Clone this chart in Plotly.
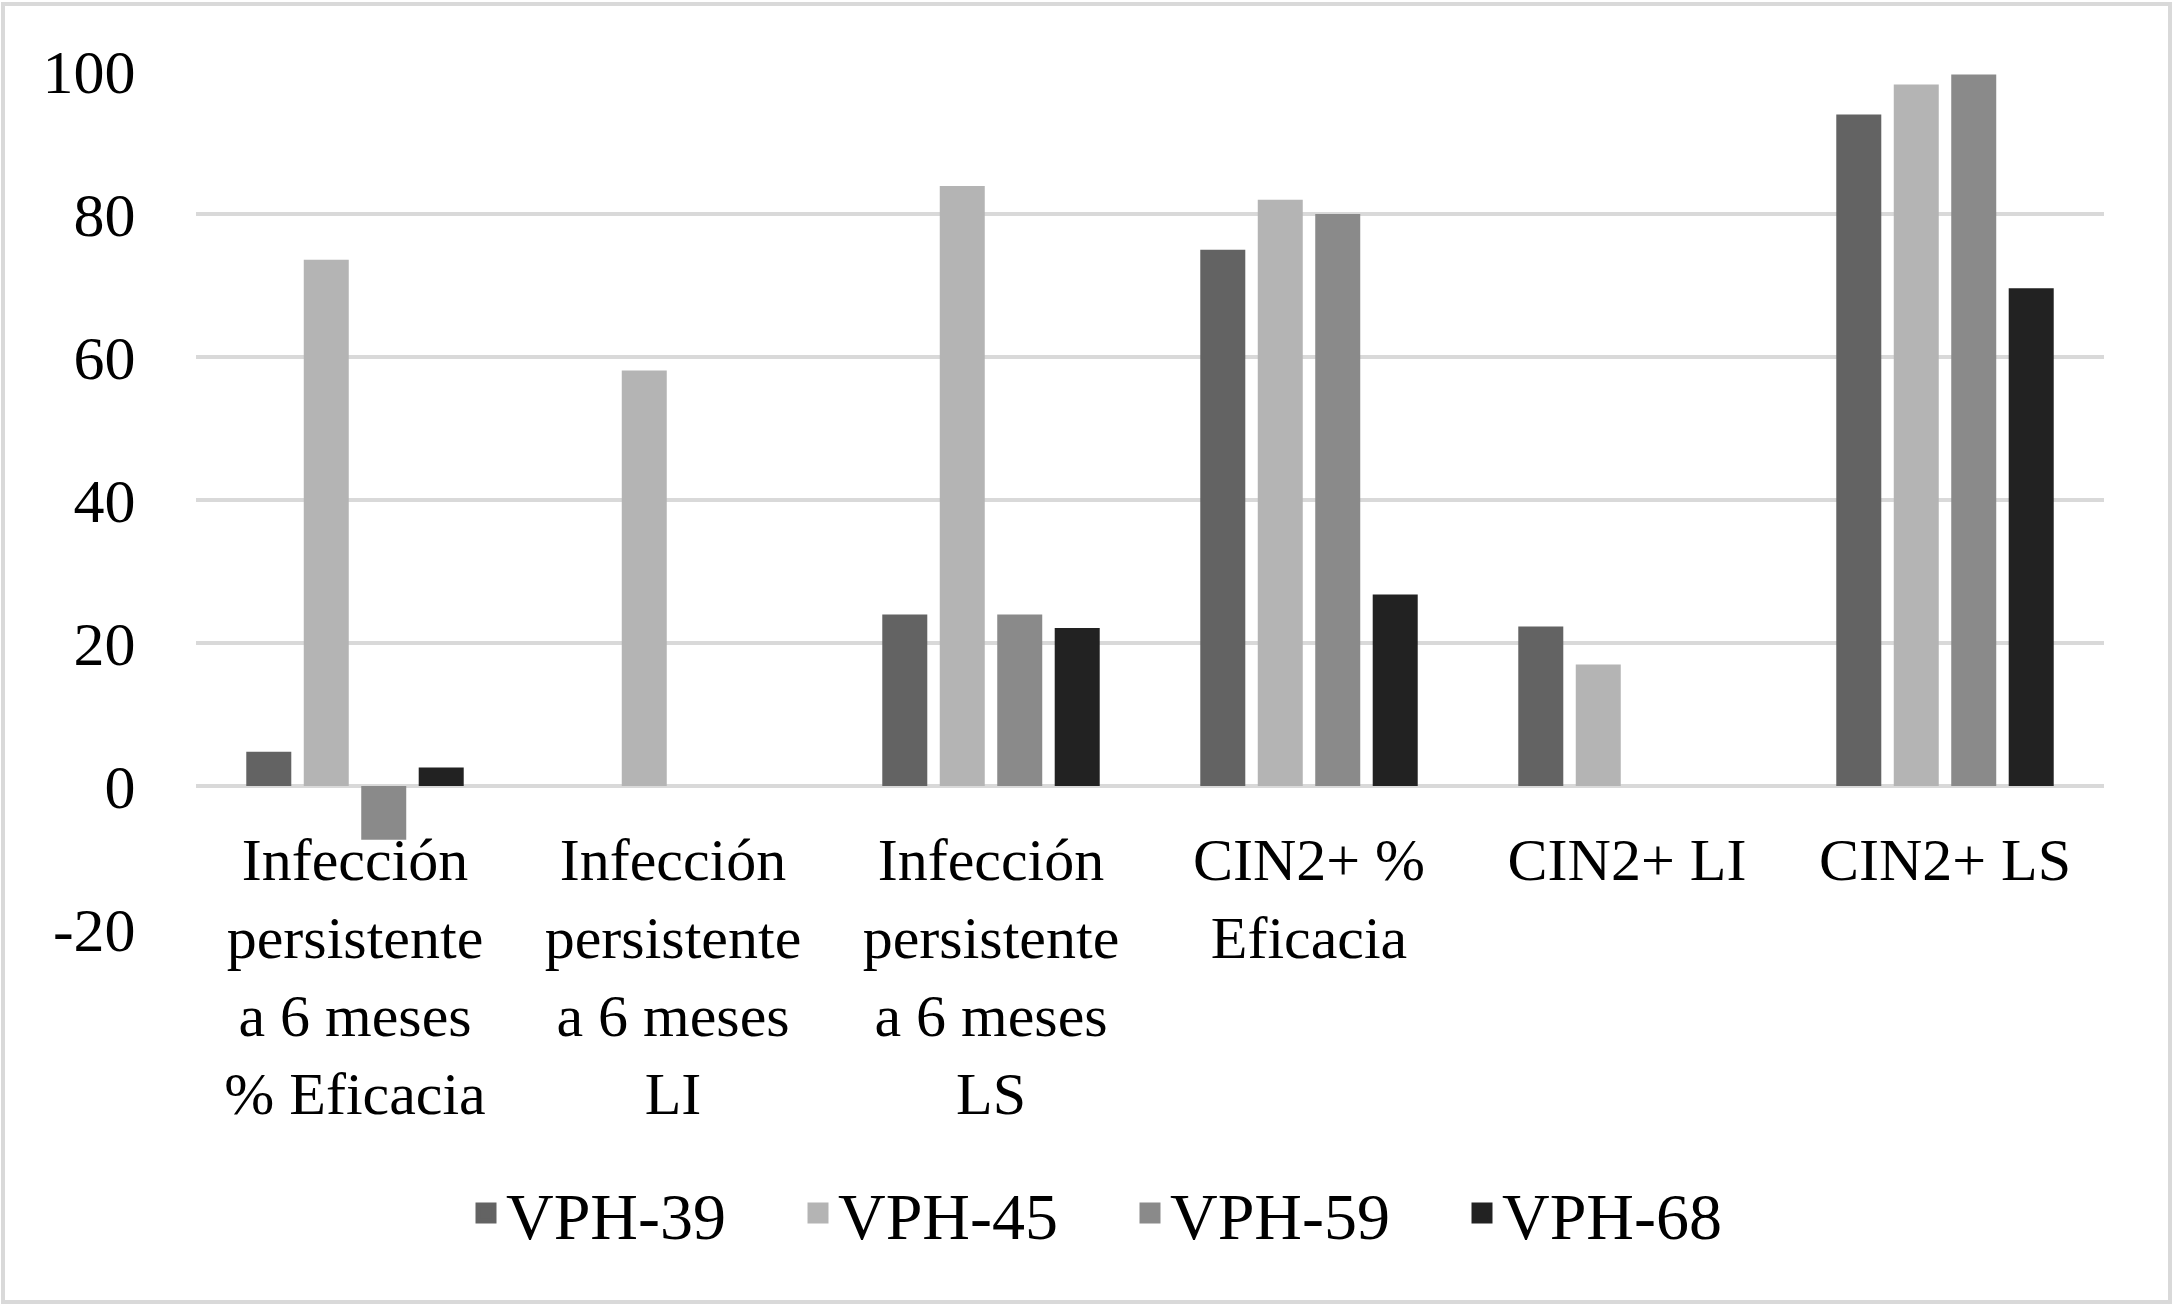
import plotly.graph_objects as go

categories = [
    "Infección<br>persistente<br>a 6 meses<br>% Eficacia",
    "Infección<br>persistente<br>a 6 meses<br>LI",
    "Infección<br>persistente<br>a 6 meses<br>LS",
    "CIN2+ %<br>Eficacia",
    "CIN2+ LI",
    "CIN2+ LS",
]
series_names = ["VPH-39", "VPH-45", "VPH-59", "VPH-68"]
vph39 = [4.8, None, 24.0, 75.0, 22.3, 93.9]
vph45 = [73.6, 58.1, 83.9, 82.0, 17.0, 98.1]
vph59 = [-7.5, None, 24.0, 80.0, None, 99.5]
vph68 = [2.6, None, 22.1, 26.8, None, 69.6]
series_values = [vph39, vph45, vph59, vph68]
colors = ["#636363", "#b4b4b4", "#8a8a8a", "#222222"]

y_ticks = [-20, 0, 20, 40, 60, 80, 100]
y_tick_labels = ["-20", "0", "20", "40", "60", "80", "100"]
y_min, y_max = -20, 100

W, H = 2173, 1306
ml, mr, mt, mb = 196, 69, 71, 377
font_family = "Liberation Serif"

fig = go.Figure()
for name, vals, col in zip(series_names, series_values, colors):
    fig.add_trace(go.Bar(
        x=categories, y=vals, name=name, legendgroup=name,
        marker=dict(color=col, line=dict(width=0)),
        showlegend=False,
    ))
# legend entries with larger square swatches
for name, col in zip(series_names, colors):
    fig.add_trace(go.Scatter(
        x=[None], y=[None], name=name, legendgroup=name,
        mode="markers",
        marker=dict(symbol="square", size=16, color=col,
                    line=dict(width=5, color=col)),
        showlegend=True, hoverinfo="skip",
    ))

zero_pos = (0 - y_min) / (y_max - y_min)

pw = W - ml - mr
ph = H - mt - mb

fig.update_layout(
    width=W, height=H,
    margin=dict(l=ml, r=mr, t=mt, b=mb),
    paper_bgcolor="white", plot_bgcolor="white",
    barmode="group", bargap=0.277, bargroupgap=0.217,
    font=dict(family=font_family, size=62, color="black"),
    showlegend=True,
    legend=dict(
        orientation="h", xanchor="center", x=(1130 - ml) / pw,
        yanchor="middle", y=-(1213 - (H - mb)) / ph,
        font=dict(size=66, family=font_family),
        traceorder="normal", entrywidth=287, itemsizing="trace",
        bgcolor="rgba(0,0,0,0)",
    ),
    xaxis=dict(
        anchor="free", position=zero_pos,
        showgrid=False, showline=False, zeroline=False,
        ticks="outside", ticklen=21, tickcolor="rgba(0,0,0,0)",
        tickfont=dict(size=60, family=font_family),
    ),
    yaxis=dict(
        range=[y_min, y_max], tickvals=y_ticks, ticktext=y_tick_labels,
        showgrid=True, gridcolor="#d9d9d9", gridwidth=4,
        zeroline=True, zerolinecolor="#d9d9d9", zerolinewidth=4,
        showline=False,
        ticks="outside", ticklen=47, tickcolor="rgba(0,0,0,0)",
        tickfont=dict(size=62, family=font_family),
    ),
    shapes=[dict(
        type="rect", xref="paper", yref="paper",
        x0=(3 - ml) / pw, x1=(2170 - ml) / pw,
        y0=-(1302 - (H - mb)) / ph, y1=1 + (mt - 4) / ph,
        line=dict(color="#d9d9d9", width=4), fillcolor="rgba(0,0,0,0)",
        layer="below",
    )],
)

fig.write_html(
    "out.html",
    config={"displayModeBar": False},
    post_script="document.body.style.margin='0';document.body.style.overflow='hidden';",
)
